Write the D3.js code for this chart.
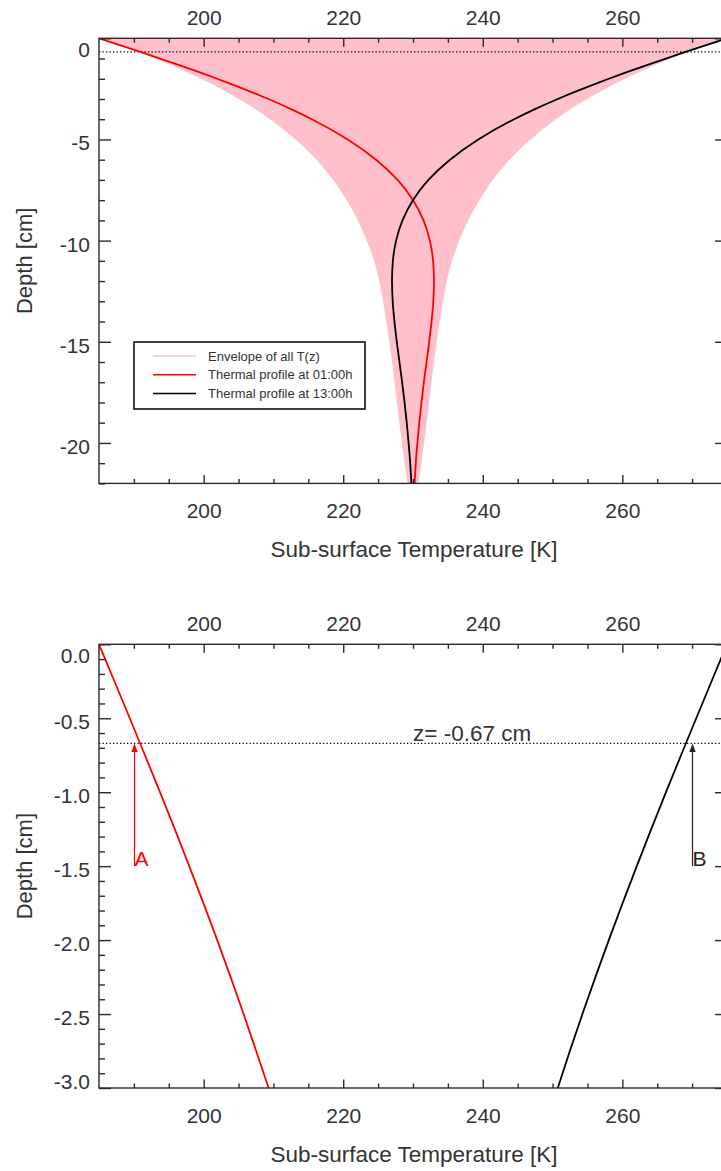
<!DOCTYPE html>
<html>
<head>
<meta charset="utf-8">
<script src="https://cdn.jsdelivr.net/npm/d3@7"></script>
<style>
  body { margin: 0; background: #fff; }
  text { font-family: "Liberation Sans", Arial, Helvetica, sans-serif; fill: #333; }
</style>
</head>
<body>
<svg id="chart" width="721" height="1171"></svg>
<script>
// Depth below the surface [cm]
const depth = [0, -0.25, -0.5, -0.75, -1, -1.25, -1.5, -1.75, -2, -2.25, -2.5, -2.75, -3,
  -3.5, -4, -5, -6, -7, -8, -9, -10, -11, -12, -13, -14, -15, -16, -17, -18, -19, -20, -21, -22];

// Minimum / maximum temperature reached at each depth over the day [K]
const envMin = [185.0, 187.16, 189.21, 191.17, 193.03, 194.80, 196.49, 198.09, 199.62, 201.08, 202.46, 203.78, 205.04,
  207.38, 209.49, 213.15, 216.15, 218.55, 220.5, 222.08, 223.37, 224.4, 225.15, 225.7, 226.17, 226.6, 227.0, 227.35, 227.7, 228.05, 228.4, 228.8, 229.2];
const envMax = [275.0, 272.84, 270.79, 268.83, 266.97, 265.20, 263.51, 261.91, 260.38, 258.92, 257.54, 256.22, 254.96,
  252.62, 250.51, 246.85, 243.85, 241.45, 239.5, 237.92, 236.63, 235.6, 234.85, 234.3, 233.83, 233.4, 233.0, 232.65, 232.3, 231.95, 231.6, 231.2, 230.8];

// Thermal profiles at 01:00h and 13:00h [K]
const t0100 = [185.00, 187.21, 189.41, 191.59, 193.74, 195.86, 197.93, 199.96, 201.94, 203.86, 205.72, 207.52, 209.3,
  212.52, 215.51, 220.64, 224.70, 227.79, 230.01, 231.51, 232.42, 232.88, 233.01, 232.91, 232.66, 232.32, 231.94, 231.56, 231.21, 230.90, 230.63, 230.40, 230.23];
const t1300 = [275.00, 272.79, 270.59, 268.41, 266.26, 264.14, 262.07, 260.04, 258.06, 256.14, 254.28, 252.48, 250.75,
  247.48, 244.49, 239.36, 235.30, 232.21, 229.99, 228.49, 227.58, 227.12, 226.99, 227.09, 227.34, 227.68, 228.06, 228.44, 228.79, 229.10, 229.37, 229.60, 229.77];

// Axis ticks
const tempRange = [185, 275];
const tempMajor = [200, 220, 240, 260];
const tempMinor = [190, 195, 205, 210, 215, 225, 230, 235, 245, 250, 255, 265, 270];
const depthMajorTop = [0, -5, -10, -15, -20];
const depthMinorTop = [-1, -2, -3, -4, -6, -7, -8, -9, -11, -12, -13, -14, -16, -17, -18, -19, -21, -22];
const depthMajorBot = [0, -0.5, -1, -1.5, -2, -2.5, -3];
const depthMinorBot = [-0.1, -0.2, -0.3, -0.4, -0.6, -0.7, -0.8, -0.9, -1.1, -1.2, -1.3, -1.4, -1.6, -1.7, -1.8, -1.9,
  -2.1, -2.2, -2.3, -2.4, -2.6, -2.7, -2.8, -2.9];

// Reference depth and the two arrows pointing at it
const refDepth = -0.67;
const arrowBase = -1.5;
const arrowTemps = [190, 270];
const arrowLabels = ["A", "B"];
const arrowColors = ["#ff0000", "#222"];

const legendLabels = ["Envelope of all T(z)", "Thermal profile at 01:00h", "Thermal profile at 13:00h"];
const legendColors = ["#ffc0cb", "#ff0000", "#000000"];

const rows = depth.map((z, i) => ({ z, lo: envMin[i], hi: envMax[i], a: t0100[i], b: t1300[i] }));

const svg = d3.select("#chart");
const AX = "#2a2a2a";

function drawPanel(opt) {
  const x = d3.scaleLinear().domain(tempRange).range([99, 727]);
  const y = d3.scaleLinear().domain(opt.domain).range([opt.y0, opt.y1]);
  const g = svg.append("g");
  const clipId = "clip" + opt.id;
  g.append("clipPath").attr("id", clipId).append("rect")
    .attr("x", 99).attr("y", opt.y0).attr("width", 628).attr("height", opt.y1 - opt.y0);
  const plot = g.append("g").attr("clip-path", `url(#${clipId})`);
  const data = rows.filter(r => r.z >= opt.domain[1] - 1);

  if (opt.envelope) {
    plot.append("path").datum(data)
      .attr("fill", "#ffc0cb")
      .attr("d", d3.area().curve(d3.curveMonotoneY).y(d => y(d.z)).x0(d => x(d.lo)).x1(d => x(d.hi)));
  }

  // reference depth line
  plot.append("line")
    .attr("x1", x(tempRange[0])).attr("x2", x(tempRange[1]))
    .attr("y1", y(refDepth)).attr("y2", y(refDepth))
    .attr("stroke", "#000").attr("stroke-width", 1.3).attr("stroke-dasharray", "1.3,2.2");

  const line = key => d3.line().curve(d3.curveMonotoneY).y(d => y(d.z)).x(d => x(d[key]));
  plot.append("path").datum(data).attr("fill", "none").attr("stroke", "#ff0000").attr("stroke-width", 1.8).attr("d", line("a"));
  plot.append("path").datum(data).attr("fill", "none").attr("stroke", "#000").attr("stroke-width", 1.8).attr("d", line("b"));

  // axes: ticks inward on all four sides
  const ax = (axis, tf) => g.append("g").attr("transform", tf).call(axis).call(s => s.select(".domain").remove())
    .call(s => s.selectAll("line").attr("stroke", AX).attr("stroke-width", 1.4))
    .call(s => s.selectAll("text").attr("fill", "#333").style("font-size", "21px"));

  const tfmt = d => String(d);
  ax(d3.axisTop(x).tickValues(tempMajor).tickSize(-8.5).tickPadding(13).tickFormat(tfmt), `translate(0,${opt.y0})`);
  ax(d3.axisTop(x).tickValues(tempMinor).tickSize(-4.5).tickFormat(""), `translate(0,${opt.y0})`);
  ax(d3.axisBottom(x).tickValues(tempMajor).tickSize(-8.5).tickPadding(20).tickFormat(tfmt), `translate(0,${opt.y1})`);
  ax(d3.axisBottom(x).tickValues(tempMinor).tickSize(-4.5).tickFormat(""), `translate(0,${opt.y1})`);

  const left = ax(d3.axisLeft(y).tickValues(opt.major).tickSize(-12).tickPadding(9).tickFormat(opt.fmt), "translate(99,0)");
  left.selectAll("text").attr("dy", (d, i) => {
    if (i === 0) return 18.5;
    if (d === opt.domain[1]) return 0.5;
    return 10.5;
  });
  ax(d3.axisLeft(y).tickValues(opt.minor).tickSize(-6).tickFormat(""), "translate(99,0)");
  ax(d3.axisRight(y).tickValues(opt.major).tickSize(-12).tickFormat(""), "translate(727,0)");
  ax(d3.axisRight(y).tickValues(opt.minor).tickSize(-6).tickFormat(""), "translate(727,0)");

  // frame
  g.append("rect").attr("x", 99).attr("y", opt.y0).attr("width", 628).attr("height", opt.y1 - opt.y0)
    .attr("fill", "none").attr("stroke", AX).attr("stroke-width", 1.4);

  // axis titles
  g.append("text").attr("x", 414).attr("y", opt.y1 + 74).attr("text-anchor", "middle")
    .style("font-size", "22.5px").text("Sub-surface Temperature [K]");
  g.append("text").attr("transform", `translate(32,${(opt.y0 + opt.y1) / 2}) rotate(-90)`)
    .attr("text-anchor", "middle").style("font-size", "22px").text("Depth [cm]");

  return { g, x, y };
}

// Upper panel: full depth range with envelope and legend
const upperPanel = drawPanel({ id: 1, domain: [0, -22], y0: 38.3, y1: 483.4, envelope: true,
  major: depthMajorTop, minor: depthMinorTop, fmt: d => String(d) });

const lg = upperPanel.g.append("g").attr("transform", "translate(134,342)");
lg.append("rect").attr("width", 231).attr("height", 67).attr("fill", "#fff").attr("stroke", "#000").attr("stroke-width", 1.5);
legendLabels.forEach((lab, i) => {
  const yy = 14 + i * 18.8;
  lg.append("line").attr("x1", 19).attr("x2", 62).attr("y1", yy).attr("y2", yy)
    .attr("stroke", legendColors[i]).attr("stroke-width", 1.5);
  lg.append("text").attr("x", 74).attr("y", yy).attr("dy", "0.36em").style("font-size", "13px").attr("fill", "#222").text(lab);
});

// Lower panel: near-surface zoom with reference depth annotation
const lowerPanel = drawPanel({ id: 2, domain: [0, -3], y0: 644.3, y1: 1088, envelope: false,
  major: depthMajorBot, minor: depthMinorBot, fmt: d => d.toFixed(1) });

lowerPanel.g.append("text").attr("x", lowerPanel.x(230)).attr("y", lowerPanel.y(refDepth) - 2.5)
  .style("font-size", "22.5px").text("z= " + refDepth.toFixed(2) + " cm");

arrowTemps.forEach((t, i) => {
  const px = Math.round(lowerPanel.x(t)) + 0.5;
  const tip = lowerPanel.y(refDepth);
  lowerPanel.g.append("line").attr("x1", px).attr("x2", px).attr("y1", lowerPanel.y(arrowBase)).attr("y2", tip + 7)
    .attr("stroke", arrowColors[i]).attr("stroke-width", 1.2);
  lowerPanel.g.append("path").attr("d", `M${px},${tip}L${px - 3.2},${tip + 8.5}L${px + 3.2},${tip + 8.5}Z`).attr("fill", arrowColors[i]);
  lowerPanel.g.append("text").attr("x", px).attr("y", lowerPanel.y(arrowBase)).style("font-size", "21px")
    .style("fill", arrowColors[i]).text(arrowLabels[i]);
});
</script>
</body>
</html>
